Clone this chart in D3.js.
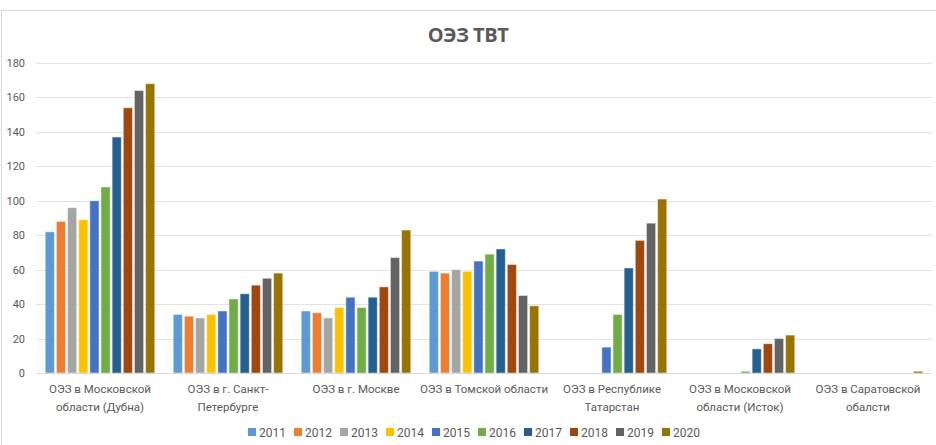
<!DOCTYPE html>
<html><head><meta charset="utf-8">
<script src="https://cdn.jsdelivr.net/npm/d3@7"></script>
<style>body{margin:0;background:#fff;} svg{display:block;font-family:Roboto,"Open Sans",sans-serif;}</style>
</head><body>
<svg id="c" width="936" height="445"></svg>
<script>
const categories = [
  ["ОЭЗ в Московской", "области (Дубна)"],
  ["ОЭЗ в г. Санкт-", "Петербурге"],
  ["ОЭЗ в г. Москве"],
  ["ОЭЗ в Томской области"],
  ["ОЭЗ в Республике", "Татарстан"],
  ["ОЭЗ в Московской", "области (Исток)"],
  ["ОЭЗ в Саратовской", "обалсти"]
];
const years = ["2011","2012","2013","2014","2015","2016","2017","2018","2019","2020"];
const colors = ["#5B9BD5","#ED7D31","#A5A5A5","#FFC000","#4472C4","#70AD47","#255E91","#9E480E","#636363","#997300"];
const v2011 = [82, 34, 36, 59, 0, 0, 0];
const v2012 = [88, 33, 35, 58, 0, 0, 0];
const v2013 = [96, 32, 32, 60, 0, 0, 0];
const v2014 = [89, 34, 38, 59, 0, 0, 0];
const v2015 = [100, 36, 44, 65, 15, 0, 0];
const v2016 = [108, 43, 38, 69, 34, 1, 0];
const v2017 = [137, 46, 44, 72, 61, 14, 0];
const v2018 = [154, 51, 50, 63, 77, 17, 0];
const v2019 = [164, 55, 67, 45, 87, 20, 0];
const v2020 = [168, 58, 83, 39, 101, 22, 1];
const series = [v2011,v2012,v2013,v2014,v2015,v2016,v2017,v2018,v2019,v2020];
const yTicks = [0,20,40,60,80,100,120,140,160,180];
const title = "ОЭЗ ТВТ";

(function(){
const svg = d3.select("#c");
svg.append("rect").attr("x",1.5).attr("y",10.5).attr("width",980).attr("height",480)
  .attr("fill","#fff").attr("stroke","#d9d9d9");

const mLeft = 36, mRight = 932, mTop = 63, mBottom = 373;
const catIdx = categories.map((d,i)=>i);
const x0 = d3.scaleBand().domain(catIdx).range([mLeft,mRight]).padding(0);
const x1 = d3.scaleBand().domain(years).range([0,x0.bandwidth()]).paddingInner(0).paddingOuter(0.74);
const y = d3.scaleLinear().domain([0,180]).range([mBottom,mTop]);

svg.append("text").attr("x",468).attr("y",42).attr("text-anchor","middle")
  .attr("font-size",20).attr("font-weight","bold").attr("fill","#595959")
  .attr("font-family","'Open Sans',Roboto,sans-serif").attr("letter-spacing","-0.5").text(title);

svg.append("g").selectAll("line").data(yTicks).join("line")
  .attr("x1",mLeft).attr("x2",mRight).attr("y1",d=>Math.round(y(d))+0.5).attr("y2",d=>Math.round(y(d))+0.5)
  .attr("stroke","#e3e3e3").attr("stroke-width",1);

svg.append("g").selectAll("text").data(yTicks).join("text")
  .attr("x",25).attr("y",d=>y(d)+4).attr("text-anchor","end")
  .attr("font-size",11).attr("fill","#595959").text(d=>d);

const g = svg.append("g");
years.forEach((yr,si)=>{
  g.append("g").selectAll("rect").data(series[si].map((v,ci)=>({v,ci})).filter(d=>d.v>0)).join("rect")
    .attr("x",d=>x0(d.ci)+x1(yr)+1)
    .attr("width",x1.bandwidth()-2)
    .attr("y",d=>y(d.v))
    .attr("height",d=>mBottom-y(d.v))
    .attr("fill",colors[si])
    .attr("stroke","#ffffff").attr("stroke-opacity",0.45).attr("stroke-width",1);
});

svg.append("line").attr("x1",mLeft).attr("x2",mRight).attr("y1",mBottom+0.5).attr("y2",mBottom+0.5)
  .attr("stroke","#d9d9d9");

const cl = svg.append("g");
categories.forEach((lines,i)=>{
  const cx = x0(i)+x0.bandwidth()/2;
  const t = cl.append("text").attr("x",cx).attr("text-anchor","middle")
    .attr("font-size",11.5).attr("fill","#595959");
  lines.forEach((ln,j)=>{
    t.append("tspan").attr("x",cx).attr("y",393+j*18).text(ln);
  });
});

const lg = svg.append("g");
years.forEach((yr,i)=>{
  const lx = 248 + i*46;
  lg.append("rect").attr("x",lx).attr("y",428).attr("width",8).attr("height",8).attr("fill",colors[i]);
  lg.append("text").attr("x",lx+11).attr("y",436.5).attr("font-size",12).attr("fill","#595959").text(yr);
});
})();
</script>
</body></html>
